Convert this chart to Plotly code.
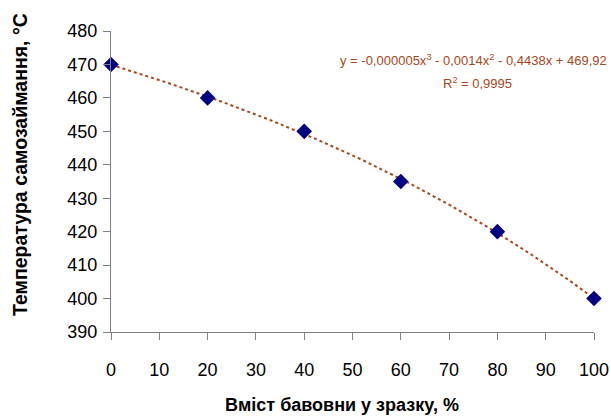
import numpy as np
import plotly.graph_objects as go

cotton_pct = [0, 20, 40, 60, 80, 100]
ignition_temp = [470, 460, 450, 435, 420, 400]
x_ticks = [0, 10, 20, 30, 40, 50, 60, 70, 80, 90, 100]
y_ticks = [390, 400, 410, 420, 430, 440, 450, 460, 470, 480]
equation_text = "y = -0,000005x<sup>3</sup> - 0,0014x<sup>2</sup> - 0,4438x + 469,92"
r2_text = "R<sup>2</sup> = 0,9995"

# cubic polynomial trendline fitted to the data (as in the source chart)
coefs = np.polyfit(cotton_pct, ignition_temp, 3)
xs = np.linspace(0, 100, 201)
ys = np.polyval(coefs, xs)

trend_color = "#A9461A"
axis_color = "#808080"

W, H = 611, 416
L, R, T, B = 111, 17, 31, 84
PW, PH = W - L - R, H - T - B


def px_x(x):
    return (x - L) / PW


def px_y(y):
    return (H - B - y) / PH


fig = go.Figure()
fig.add_trace(go.Scatter(x=xs, y=ys, mode="lines",
                         line=dict(color=trend_color, width=2, dash="dot"),
                         hoverinfo="skip", showlegend=False, cliponaxis=False))
fig.add_trace(go.Scatter(x=cotton_pct, y=ignition_temp, mode="markers",
                         marker=dict(symbol="diamond", size=12, color="#000080",
                                     line=dict(width=0)),
                         showlegend=False, cliponaxis=False))

font_family = "Liberation Sans, Arial, sans-serif"
fig.update_layout(
    width=W, height=H,
    margin=dict(l=L, r=R, t=T, b=B, autoexpand=False),
    paper_bgcolor="white", plot_bgcolor="white",
    font=dict(family=font_family, color="black", size=18),
    xaxis=dict(range=[0, 100], tickvals=x_ticks, showline=True, linecolor=axis_color,
               linewidth=1, ticks="outside", ticklen=7, tickcolor=axis_color,
               showgrid=False, zeroline=False, tickfont=dict(size=18),
               ticklabelstandoff=14, automargin=False),
    yaxis=dict(range=[390, 480], tickvals=y_ticks, showline=True, linecolor=axis_color,
               linewidth=1, ticks="outside", ticklen=7, tickcolor=axis_color,
               showgrid=False, zeroline=False, tickfont=dict(size=18),
               ticklabelstandoff=2, automargin=False),
    annotations=[
        dict(text="Вміст бавовни у зразку, %", xref="paper", yref="paper",
             x=px_x(342), y=px_y(405), showarrow=False,
             font=dict(size=18, family=font_family, weight="bold"),
             xanchor="center", yanchor="middle"),
        dict(text="Температура самозаймання, °С", xref="paper", yref="paper",
             x=px_x(20), y=px_y(165), showarrow=False, textangle=-90,
             font=dict(size=19.5, family=font_family, weight="bold"),
             xanchor="center", yanchor="middle"),
        dict(text=equation_text, xref="paper", yref="paper", x=px_x(609), y=px_y(60),
             showarrow=False, xanchor="right", yanchor="middle",
             font=dict(size=13, color=trend_color, family=font_family)),
        dict(text=r2_text, xref="paper", yref="paper", x=px_x(477), y=px_y(83),
             showarrow=False, xanchor="center", yanchor="middle",
             font=dict(size=13, color=trend_color, family=font_family)),
    ],
)

fig.write_html("out.html",
               config={"displayModeBar": False},
               post_script="document.body.style.margin='0';"
                           "document.body.style.overflow='hidden';")
